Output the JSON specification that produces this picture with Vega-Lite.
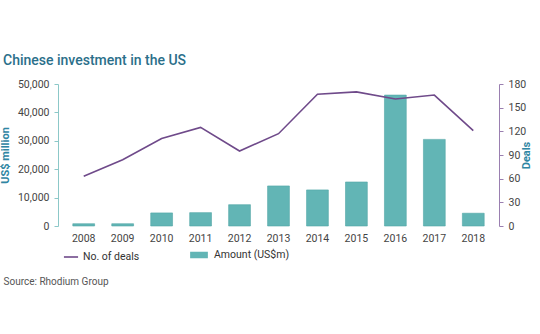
{
  "$schema": "https://vega.github.io/schema/vega-lite/v6.json",
  "autosize": {"type": "none"},
  "width": 441,
  "height": 142,
  "padding": {"left": 58, "top": 84, "right": 41, "bottom": 108},
  "background": "white",
  "title": {
    "text": "Chinese investment in the US",
    "anchor": "start",
    "frame": "group",
    "dx": -55,
    "offset": 11,
    "font": "Roboto",
    "fontSize": 14,
    "fontWeight": 500,
    "color": "#2b6f8a"
  },
  "config": {
    "font": "Roboto",
    "view": {"stroke": null},
    "axis": {"labelFont": "Roboto", "labelFontSize": 10.5, "labelColor": "#444444", "grid": false, "titleFont": "Roboto"},
    "legend": {"labelFont": "Roboto", "labelFontSize": 10.5, "labelColor": "#333333"}
  },
  "data": {
    "values": [
      {"year": "2008", "amount": 800, "deals": 63},
      {"year": "2009", "amount": 800, "deals": 84},
      {"year": "2010", "amount": 4600, "deals": 111},
      {"year": "2011", "amount": 4700, "deals": 125},
      {"year": "2012", "amount": 7500, "deals": 95},
      {"year": "2013", "amount": 14100, "deals": 117},
      {"year": "2014", "amount": 12700, "deals": 167},
      {"year": "2015", "amount": 15500, "deals": 170},
      {"year": "2016", "amount": 46100, "deals": 161},
      {"year": "2017", "amount": 30500, "deals": 166},
      {"year": "2018", "amount": 4500, "deals": 121}
    ]
  },
  "encoding": {
    "x": {
      "field": "year",
      "type": "ordinal",
      "scale": {"paddingInner": 0.44, "paddingOuter": 0.38},
      "axis": {
        "labelAngle": 0,
        "domain": false,
        "ticks": false,
        "labelPadding": 7,
        "title": "Source: Rhodium Group",
        "titleX": -55,
        "titleY": 55,
        "titleAlign": "left",
        "titleBaseline": "middle",
        "titleFontWeight": "normal",
        "titleFontSize": 10,
        "titleColor": "#555555"
      }
    }
  },
  "layer": [
    {
      "mark": {"type": "bar", "stroke": "#52a6a6", "strokeWidth": 0.6},
      "encoding": {
        "y": {
          "field": "amount",
          "type": "quantitative",
          "scale": {"domain": [0, 50000]},
          "axis": {
            "values": [0, 10000, 20000, 30000, 40000, 50000],
            "format": ",.0f",
            "title": "US$ million",
            "titleColor": "#2f86a3",
            "titleFontSize": 11,
            "titleFontWeight": "bold",
            "titlePadding": 7,
            "domainColor": "#8cc8c8",
            "tickColor": "#8cc8c8",
            "tickSize": 4,
            "labelPadding": 5
          }
        },
        "fill": {
          "datum": "Amount (US$m)",
          "scale": {"range": ["#62b5b5"]},
          "legend": {
            "title": null,
            "orient": "none",
            "legendX": 135,
            "legendY": 165,
            "symbolType": "M-1.5,-0.55H1.5V0.55H-1.5Z",
            "symbolSize": 140,
            "symbolStrokeWidth": 0,
            "labelOffset": 9
          }
        }
      }
    },
    {
      "mark": {"type": "line", "strokeWidth": 1.6},
      "encoding": {
        "y": {
          "field": "deals",
          "type": "quantitative",
          "scale": {"domain": [0, 180]},
          "axis": {
            "orient": "right",
            "values": [0, 30, 60, 90, 120, 150, 180],
            "title": "Deals",
            "titleAngle": 270,
            "titleColor": "#2f86a3",
            "titleFontSize": 11,
            "titleFontWeight": "bold",
            "titlePadding": 6,
            "domainColor": "#9a7fb0",
            "tickColor": "#9a7fb0",
            "tickSize": 4,
            "labelPadding": 5
          }
        },
        "stroke": {
          "datum": "No. of deals",
          "scale": {"range": ["#6f4a8a"]},
          "legend": {
            "title": null,
            "orient": "none",
            "legendX": 5,
            "legendY": 165,
            "symbolType": "stroke",
            "symbolStrokeWidth": 1.6,
            "symbolSize": 200
          }
        }
      }
    }
  ],
  "resolve": {"scale": {"y": "independent"}}
}
